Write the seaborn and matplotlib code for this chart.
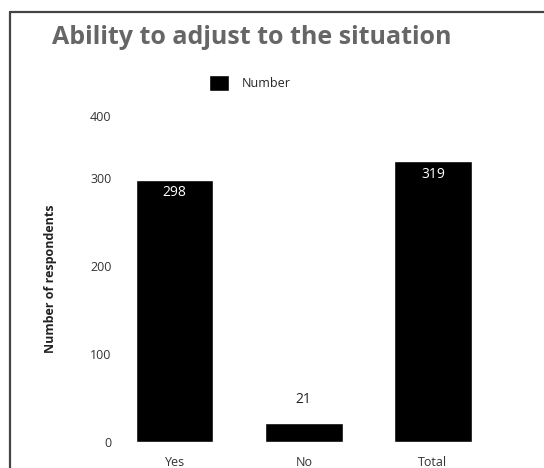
import matplotlib
matplotlib.use("Agg")
import matplotlib.pyplot as plt
from matplotlib.lines import Line2D
import seaborn as sns

sns.set_style("white")
plt.rcParams['font.family'] = ['Open Sans', 'DejaVu Sans']

# Data
categories = ["Yes", "No", "Total"]
values = [298, 21, 319]
tick_values = [0, 100, 200, 300, 370]
tick_labels = ["0", "100", "200", "300", "400"]

fig = plt.figure(figsize=(5.44, 4.68), dpi=100)
ax = fig.add_axes([0.2206, 0.0556, 0.6985, 0.6957])

sns.barplot(x=categories, y=values, color="black", saturation=1,
            width=0.6, label="Number", ax=ax)

ax.set_xlim(-0.424, 2.52)
ax.set_ylim(0, 370)
ax.set_yticks(tick_values, tick_labels)
ax.tick_params(axis="both", length=0, labelsize=9, colors="#333333")
ax.tick_params(axis="x", pad=10)
ax.tick_params(axis="y", pad=6)
ax.set_xlabel("")
ax.set_ylabel("Number of respondents", fontsize=9, fontweight="bold",
              color="#222222", labelpad=24)
sns.despine(ax=ax, left=True, bottom=True)

# value labels: inside the tall bars, above the short one
for i, v in enumerate(values):
    if v > 100:
        ax.annotate(str(v), (i, v), xytext=(0, -4), textcoords="offset points",
                    ha="center", va="top", color="white", fontsize=10)
    else:
        ax.annotate(str(v), (i, v), xytext=(0, 12), textcoords="offset points",
                    ha="center", va="bottom", color="#222222", fontsize=10)

if ax.legend_:
    ax.legend_.remove()
handles, labels = ax.get_legend_handles_labels()
fig.legend(handles, labels, loc="center", bbox_to_anchor=(250 / 544, 1 - 83 / 468),
           frameon=False, fontsize=9, handlelength=1.6, handleheight=1.6,
           handletextpad=1.0)

fig.text(52 / 544, 1 - 37 / 468, "Ability to adjust to the situation",
         fontsize=18, fontweight="bold", color="#666666", ha="left", va="center")

# frame lines along the top and left edges
fig.add_artist(Line2D([10 / 544, 10 / 544], [0, 1 - 12 / 468], color="#444444", lw=1.6))
fig.add_artist(Line2D([10 / 544, 1], [1 - 12 / 468, 1 - 12 / 468], color="#444444", lw=1.6))

fig.savefig("out.png", dpi=100)
